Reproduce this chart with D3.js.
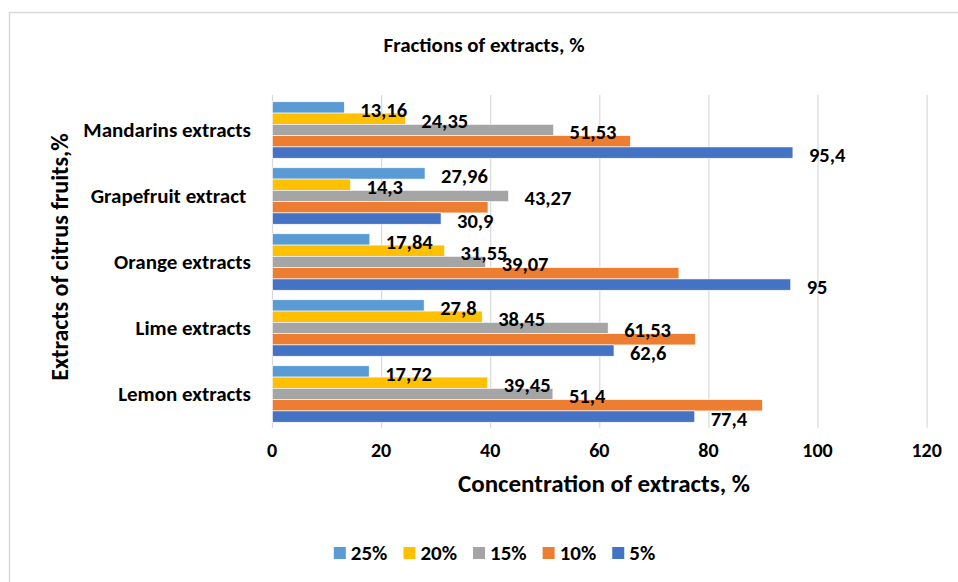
<!DOCTYPE html>
<html>
<head>
<meta charset="utf-8">
<script src="https://cdn.jsdelivr.net/npm/d3@7"></script>
<style>
  html, body { margin: 0; padding: 0; background: #fff; }
  svg text { font-family: Carlito, Calibri, "Liberation Sans Narrow", "Arial Narrow", "Liberation Sans", sans-serif; font-weight: bold; fill: #000; }
</style>
</head>
<body>
<svg id="chart" width="958" height="582"></svg>
<script>
// Categories, listed bottom to top
const categories = ["Lemon extracts", "Lime extracts", "Orange extracts", "Grapefruit extract ", "Mandarins extracts"];

// Series (fraction of extract), values per category in the same order
const seriesNames = ["25%", "20%", "15%", "10%", "5%"];
const values25 = [17.72, 27.8, 17.84, 27.96, 13.16];
const values20 = [39.45, 38.45, 31.55, 14.3, 24.35];
const values15 = [51.4, 61.53, 39.07, 43.27, 51.53];
const values10 = [89.8, 77.5, 74.5, 39.5, 65.6];
const values5  = [77.4, 62.6, 95, 30.9, 95.4];
const labelled = [true, true, true, false, true];

const xTicks = [0, 20, 40, 60, 80, 100, 120];
const colors = ["#5B9BD5", "#FFC000", "#A5A5A5", "#ED7D31", "#4472C4"];

const allValues = [values25, values20, values15, values10, values5];
const series = seriesNames.map((name, i) => ({ name, values: allValues[i], color: colors[i], labelled: labelled[i] }));

const svg = d3.select("#chart");

// chart frame
svg.append("rect")
  .attr("x", 9.5).attr("y", 12.5).attr("width", 1000).attr("height", 600)
  .attr("fill", "#fff").attr("stroke", "#d9d9d9").attr("stroke-width", 1.5);

const x = d3.scaleLinear().domain([0, 120]).range([272, 926.6]);
const y = d3.scaleBand()
  .domain(categories.slice().reverse())
  .range([97, 427])
  .paddingInner(0.145)
  .paddingOuter(0.0725);
const ySub = d3.scaleBand().domain(seriesNames).range([0, y.bandwidth()]);

// gridlines
svg.append("g").selectAll("line").data(xTicks).join("line")
  .attr("x1", d => x(d) + 0.5).attr("x2", d => x(d) + 0.5)
  .attr("y1", 95).attr("y2", 428)
  .attr("stroke", "#d9d9d9").attr("stroke-width", 1.2);

// tick labels
svg.append("g").selectAll("text").data(xTicks).join("text")
  .attr("x", d => x(d)).attr("y", 457)
  .attr("text-anchor", "middle")
  .style("font-size", "20px")
  .text(d => d);

// bars
const points = series.flatMap(s => s.values.map((v, i) => ({ v, cat: categories[i], s })));
svg.append("g").selectAll("rect").data(points).join("rect")
  .attr("x", x(0) + 0.5)
  .attr("y", d => y(d.cat) + ySub(d.s.name))
  .attr("width", d => x(d.v) - x(0))
  .attr("height", ySub.bandwidth())
  .attr("fill", d => d.s.color)
  .attr("stroke", "#fff").attr("stroke-width", 0.6);

// value labels, drawn above every bar
const fmt = v => String(v).replace(".", ",");
svg.append("g").selectAll("text").data(points.filter(d => d.s.labelled)).join("text")
  .attr("x", d => x(d.v) + 16.5)
  .attr("y", d => y(d.cat) + ySub(d.s.name) + ySub.bandwidth() / 2 + 2)
  .attr("dy", "0.35em")
  .style("font-size", "20.5px")
  .text(d => fmt(d.v));

// category labels
svg.append("g").selectAll("text").data(categories).join("text")
  .attr("x", 251).attr("y", d => y(d) + y.bandwidth() / 2)
  .attr("dy", "0.35em")
  .attr("text-anchor", "end")
  .style("white-space", "pre")
  .style("font-size", "21px")
  .text(d => d);

// titles
svg.append("text").attr("x", 484).attr("y", 45).attr("dy", "0.35em")
  .attr("text-anchor", "middle").style("font-size", "21px")
  .text("Fractions of extracts, %");

svg.append("text").attr("x", 604).attr("y", 483).attr("dy", "0.35em")
  .attr("text-anchor", "middle").style("font-size", "25px")
  .text("Concentration of extracts, %");

svg.append("text")
  .attr("transform", "translate(60,257) rotate(-90)")
  .attr("dy", "0.35em")
  .attr("text-anchor", "middle").style("font-size", "24px")
  .text("Extracts of citrus fruits,%");

// legend
const legend = svg.append("g");
const items = legend.selectAll("g").data(series).join("g");
items.append("rect").attr("width", 12).attr("height", 12).attr("y", -6).attr("fill", d => d.color);
items.append("text").attr("x", 17).attr("dy", "0.35em").style("font-size", "21px").text(d => d.name);
let cx = 0;
const pos = [];
items.each(function () {
  const w = 17 + this.querySelector("text").getComputedTextLength();
  pos.push(cx);
  cx += w + 16;
});
const total = cx - 16;
const start = 494.5 - total / 2;
items.attr("transform", (d, i) => `translate(${start + pos[i]},553)`);
</script>
</body>
</html>
